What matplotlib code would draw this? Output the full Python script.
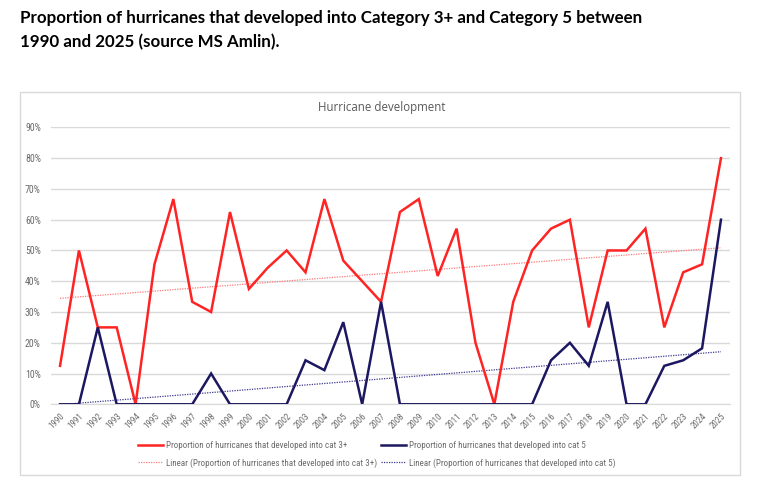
import numpy as np
import matplotlib
matplotlib.use("Agg")
import matplotlib.pyplot as plt
from matplotlib.patches import Rectangle
from matplotlib.ticker import PercentFormatter
from matplotlib import font_manager

years = [str(y) for y in range(1990, 2026)]
cat3 = [12.5, 50, 25, 25, 0, 45.5, 66.7, 33.3, 30, 62.5, 37.5, 44.4, 50, 42.9,
        66.7, 46.7, 40, 33.3, 62.5, 66.7, 41.7, 57.1, 20, 0, 33.3, 50, 57.1, 60,
        25, 50, 50, 57.1, 25, 42.9, 45.5, 80]
cat5 = [0, 0, 25, 0, 0, 0, 0, 0, 10, 0, 0, 0, 0, 14.3, 11.1, 26.7, 0, 33.3,
        0, 0, 0, 0, 0, 0, 0, 0, 14.3, 20, 12.5, 33.3, 0, 0, 12.5, 14.3, 18.2, 60]
yticks = [0, 10, 20, 30, 40, 50, 60, 70, 80, 90]
title1 = "Proportion of hurricanes that developed into Category 3+ and Category 5 between"
title2 = "1990 and 2025 (source MS Amlin)."
chart_title = "Hurricane development"
lab3 = "Proportion of hurricanes that developed into cat 3+"
lab5 = "Proportion of hurricanes that developed into cat 5"
lin3 = "Linear (Proportion of hurricanes that developed into cat 3+)"
lin5 = "Linear (Proportion of hurricanes that developed into cat 5)"

names = {f.name for f in font_manager.fontManager.ttflist}
def pick(prefs):
    for p in prefs:
        if p in names:
            return p
    return "DejaVu Sans"
bold_font = pick(["Lato", "Roboto", "Open Sans"])
small_font = pick(["Liberation Sans Narrow", "Roboto Condensed", "Roboto", "Open Sans"])
mid_font = pick(["Open Sans", "Noto Sans", "Roboto"])

W, H = 763, 493
fig = plt.figure(figsize=(W / 100, H / 100), dpi=100)
fig.patch.set_facecolor("white")
renderer = fig.canvas.get_renderer()

def fit_size(text, family, weight, target_px, base=10.0):
    t = fig.text(0, 0, text, family=family, fontweight=weight, fontsize=base)
    w = t.get_window_extent(renderer).width
    t.remove()
    return base * target_px / w

# chart frame
fig.patches.append(Rectangle((20 / W, 1 - 475 / H), 720 / W, 383 / H,
                             transform=fig.transFigure, fill=False,
                             edgecolor="#d9d9d9", lw=1.0))

ts = fit_size(title1, bold_font, "bold", 620)
fig.text(20 / W, 1 - 18 / H, title1, fontsize=ts, fontweight="bold",
         family=bold_font, va="center", ha="left", color="black")
fig.text(20 / W, 1 - 42 / H, title2, fontsize=ts, fontweight="bold",
         family=bold_font, va="center", ha="left", color="black")
cs = fit_size(chart_title, mid_font, "normal", 127)
fig.text(381.5 / W, 1 - 108 / H, chart_title, fontsize=cs,
         color="#595959", family=mid_font, ha="center", va="center")

left, right = 50.6, 730.4
top, bottom = 127.4, 404.3
ax = fig.add_axes([left / W, 1 - bottom / H, (right - left) / W, (bottom - top) / H])

x = np.arange(len(years))
c3 = np.array(cat3) / 100
c5 = np.array(cat5) / 100

red, navy = "#ff2424", "#1c1761"
red_t, navy_t = "#ff7a7a", "#3d3990"
h3, = ax.plot(x, c3, color=red, lw=1.8, solid_joinstyle="miter", zorder=4)
h5, = ax.plot(x, c5, color=navy, lw=1.8, solid_joinstyle="miter", zorder=4)
p3 = np.polyfit(x, c3, 1)
p5 = np.polyfit(x, c5, 1)
t3, = ax.plot(x, np.polyval(p3, x), color=red_t, lw=0.9, ls=(0, (1, 1)), zorder=3)
t5, = ax.plot(x, np.polyval(p5, x), color=navy_t, lw=0.9, ls=(0, (1, 1)), zorder=3)

ax.set_xlim(-0.5, len(years) - 0.5)
ax.set_ylim(0, 0.9)
ax.set_yticks([v / 100 for v in yticks])
ax.yaxis.set_major_formatter(PercentFormatter(1.0, decimals=0))
ax.grid(axis="y", color="#d9d9d9", lw=1.0)
ax.set_axisbelow(True)
for s in ["top", "right", "left"]:
    ax.spines[s].set_visible(False)
ax.spines["bottom"].set_color("#d9d9d9")
ys = fit_size("90%", small_font, "normal", 16)
ax.tick_params(axis="y", length=0, pad=7, labelsize=ys, labelcolor="#6b6b6b")
ax.set_xticks(x)
ax.set_xticklabels(years, rotation=45, ha="right", rotation_mode="anchor")
xs = fit_size("1990", small_font, "normal", 17.5)
ax.tick_params(axis="x", length=0, pad=5, labelsize=xs, labelcolor="#6b6b6b")
for lab in ax.get_xticklabels() + ax.get_yticklabels():
    lab.set_family(small_font)

# legend
ls_ = fit_size(lin3, small_font, "normal", 211)
px_per_em = ls_ * 100 / 72
leg = fig.legend([h3, t3, h5, t5], [lab3, lin3, lab5, lin5],
                 ncol=2, loc="upper left", bbox_to_anchor=(138 / W, 1 - 441 / H),
                 frameon=False, prop={"family": small_font, "size": ls_},
                 handlelength=25 / px_per_em, handletextpad=3 / px_per_em,
                 columnspacing=4 / px_per_em, labelspacing=(17 / px_per_em) - 1.0,
                 borderpad=0, borderaxespad=0, labelcolor="#6b6b6b")

fig.savefig("out.png", dpi=100, facecolor="white")
